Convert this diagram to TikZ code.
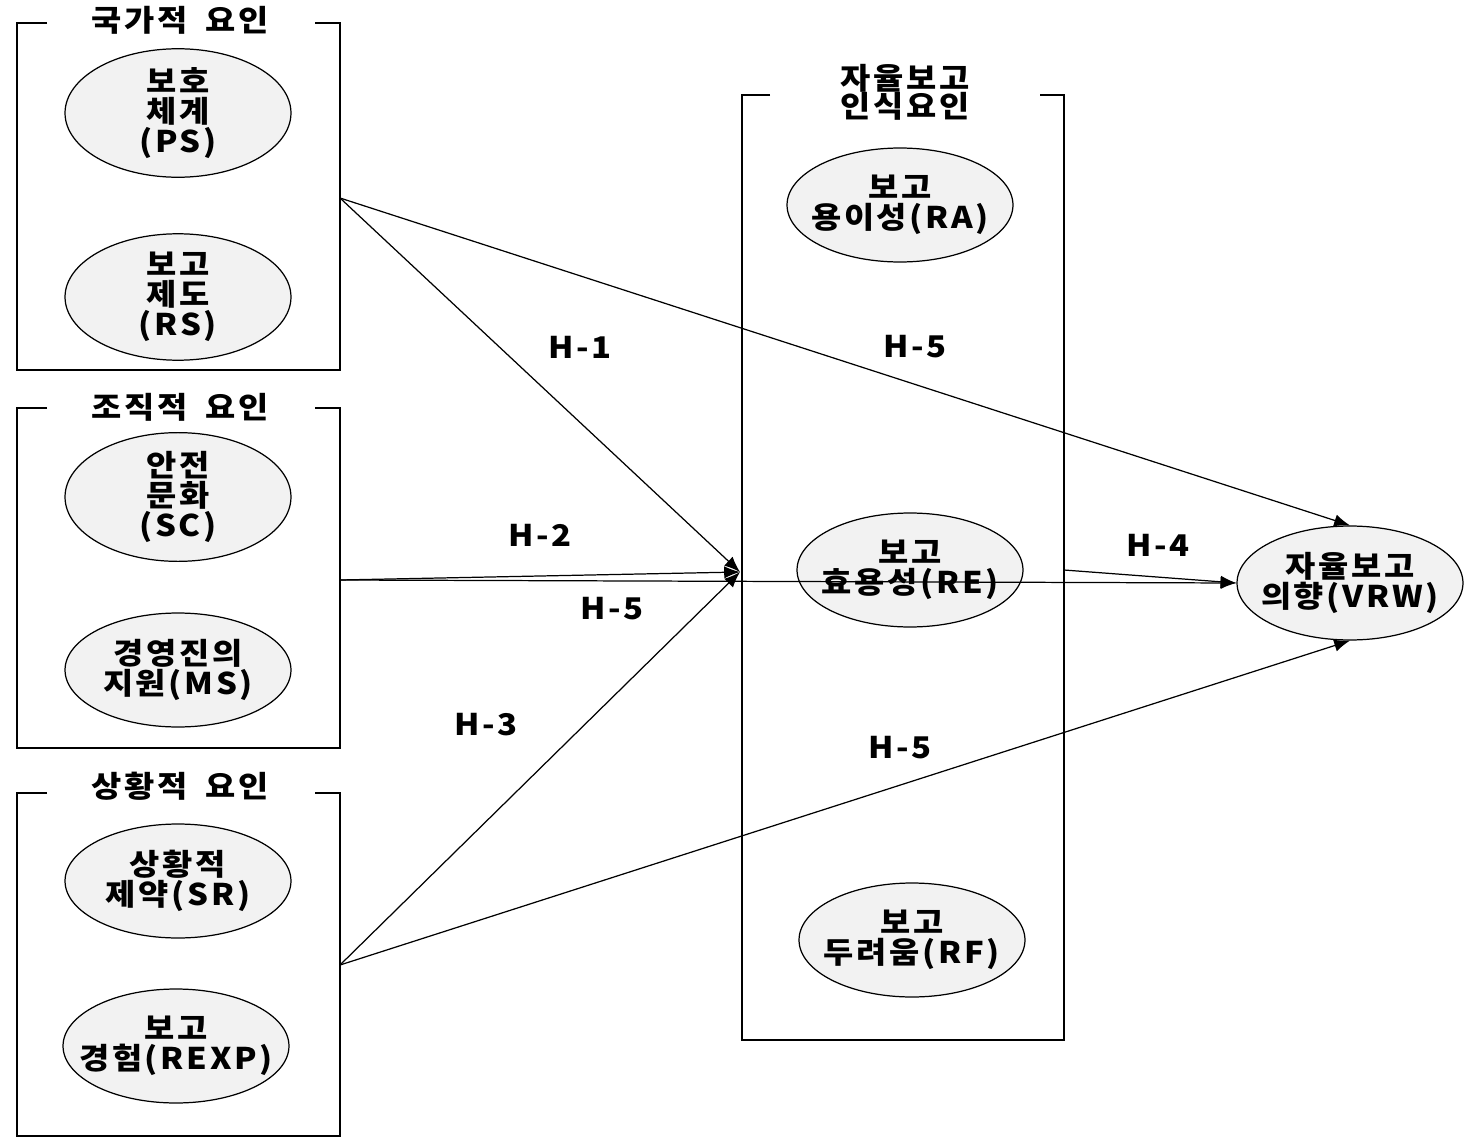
\documentclass[tikz,border=0pt]{standalone}
\usepackage{fontspec}
\setmainfont{Noto Sans CJK KR}[LetterSpace=9, FakeStretch=1.1]
\usetikzlibrary{shapes.geometric, arrows.meta}

\begin{document}
\begin{tikzpicture}[x=0.02cm, y=-0.02cm,
        factor/.style={ellipse, draw, line width=0.7pt, fill=gray!10, minimum width=4.52cm, minimum height=2.28cm, inner xsep=-14pt, inner ysep=0pt, align=center, font=\bfseries\fontsize{17}{17}\selectfont},
        grptitle/.style={font=\bfseries\fontsize{17}{16}\selectfont, align=center},
        hyp/.style={font=\bfseries\fontsize{17}{17}\selectfont},
        frame/.style={line width=1.1pt},
        link/.style={-{Latex[length=9pt, width=7pt]}, line width=0.7pt}]
        \useasboundingbox (0, 0) rectangle (1472, 1139);

        % group frames
        \draw[frame] (47, 23) -- (17, 23) -- (17, 370) -- (340, 370) -- (340, 23) -- (315, 23);
        \draw[frame] (47, 408) -- (17, 408) -- (17, 748) -- (340, 748) -- (340, 408) -- (315, 408);
        \draw[frame] (47, 793) -- (17, 793) -- (17, 1136) -- (340, 1136) -- (340, 793) -- (315, 793);
        \draw[frame] (770, 95) -- (742, 95) -- (742, 1040) -- (1064, 1040) -- (1064, 95) -- (1040, 95);
        \node[grptitle] (natl) at (180, 20) {국가적\hspace{0.6em}요인};
        \node[grptitle] (org) at (180, 407) {조직적\hspace{0.6em}요인};
        \node[grptitle] (sit) at (180, 786) {상황적\hspace{0.6em}요인};
        \node[grptitle] (perc) at (905, 92) {자율보고\\인식요인};

        % factors
        \node[factor] (ps) at (178, 113) {보호\\체계\\(PS)};
        \node[factor] (rs) at (178, 297) {보고\\제도\\(RS)};
        \node[factor] (sc) at (178, 497) {안전\\문화\\(SC)};
        \node[factor] (ms) at (178, 670) {경영진의\\지원(MS)};
        \node[factor] (sr) at (178, 881) {상황적\\제약(SR)};
        \node[factor] (rexp) at (176, 1046) {보고\\경험(REXP)};
        \node[factor] (ra) at (900, 205) {보고\\용이성(RA)};
        \node[factor] (re) at (910, 570) {보고\\효용성(RE)};
        \node[factor] (rf) at (912, 940) {보고\\두려움(RF)};
        \node[factor] (vrw) at (1350, 583) {자율보고\\의향(VRW)};

        % ends on the frames
        \coordinate (na) at (340, 198);
        \coordinate (nb) at (340, 580);
        \coordinate (nc) at (340, 965);
        \coordinate (jn) at (740, 572);
        \coordinate (pe) at (1064, 570);

        % hypotheses
        \draw[link] (na) -- (jn);
        \draw[link] (na) -- (vrw.north);
        \draw[link] (nb) -- (jn);
        \draw[link] (nb) -- (vrw.west);
        \draw[link] (nc) -- (jn);
        \draw[link] (nc) -- (vrw.south);
        \draw[link] (pe) -- (vrw.west);

        \node[hyp] (h1) at (580, 347) {H-1};
        \node[hyp] (h5a) at (915, 347) {H-5};
        \node[hyp] (h2) at (540, 535) {H-2};
        \node[hyp] (h5b) at (612, 609) {H-5};
        \node[hyp] (h3) at (486, 725) {H-3};
        \node[hyp] (h5c) at (900, 748) {H-5};
        \node[hyp] (h4) at (1158, 545) {H-4};
    \end{tikzpicture}
\end{document}
